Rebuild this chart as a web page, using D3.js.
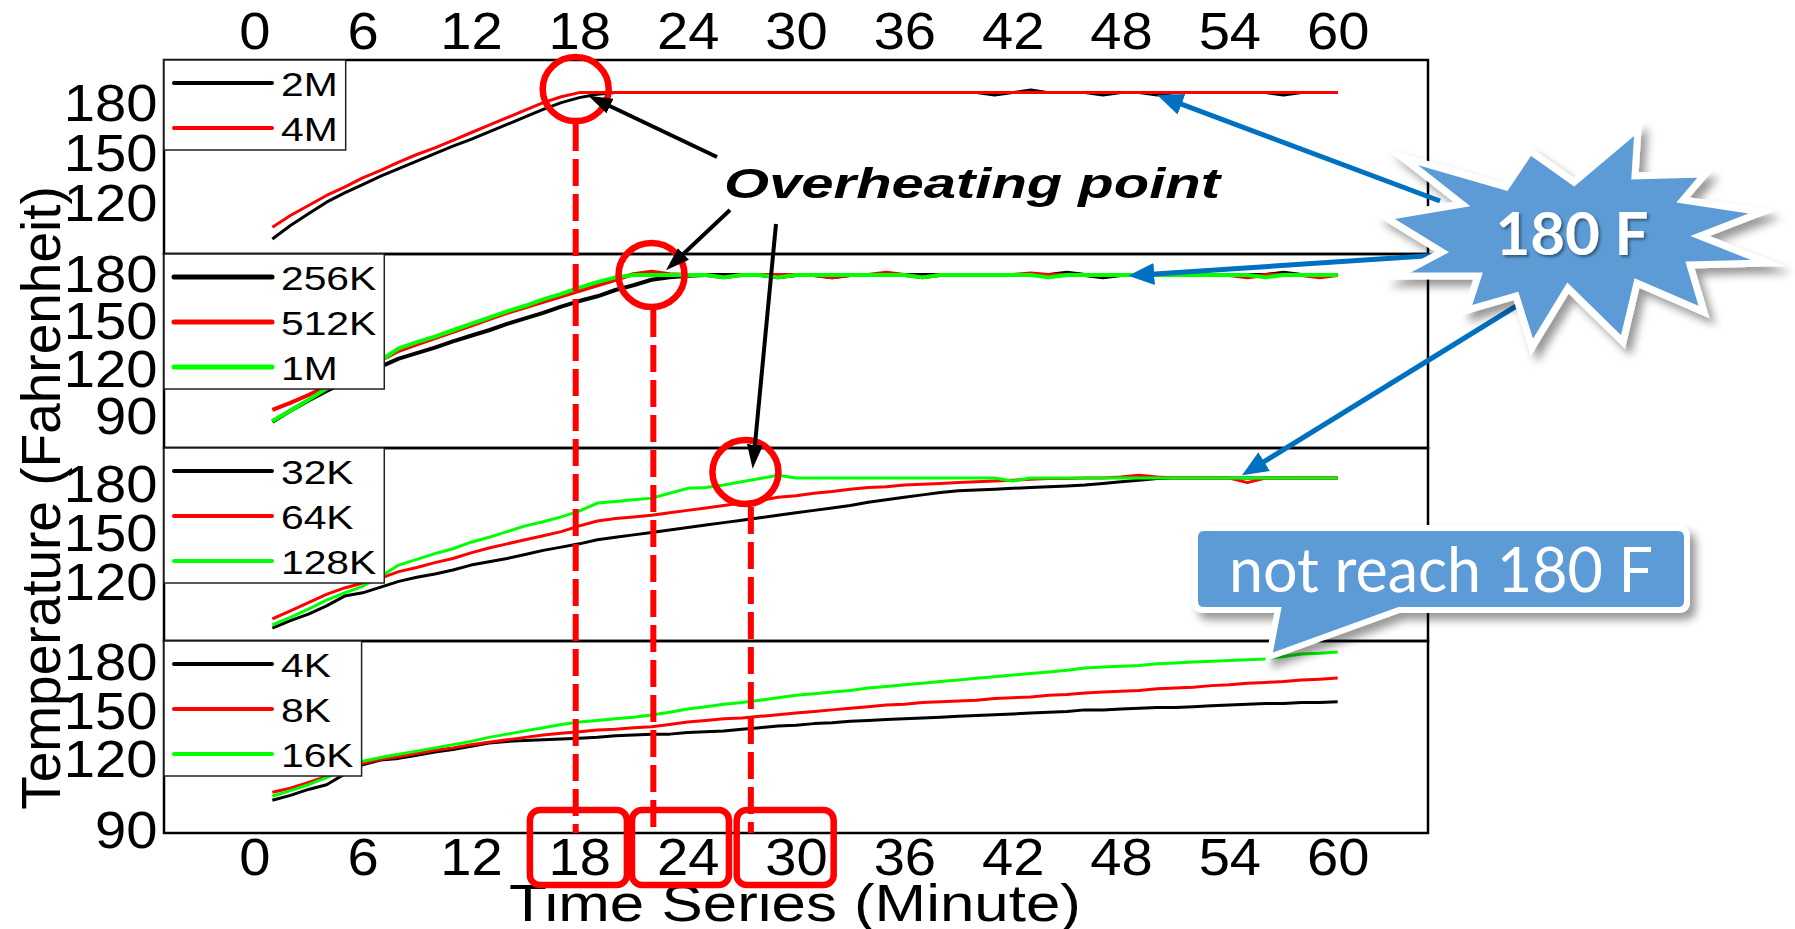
<!DOCTYPE html>
<html>
<head>
<meta charset="utf-8">
<title>Overheating point</title>
<script src="https://cdn.jsdelivr.net/npm/d3@7"></script>
<style>
  body { margin: 0; background: #fff; }
  svg { display: block; }
</style>
</head>
<body>
<svg id="chart" width="1795" height="929"></svg>
<script>
// time axis (minutes)
const minutes = d3.range(1, 61);
const xTicks = [0, 6, 12, 18, 24, 30, 36, 42, 48, 54, 60];

// legend names per panel
const p1Names = ["2M", "4M"];
const p2Names = ["256K", "512K", "1M"];
const p3Names = ["32K", "64K", "128K"];
const p4Names = ["4K", "8K", "16K"];

// y tick labels per panel
const p1Ticks = [120, 150, 180];
const p2Ticks = [90, 120, 150, 180];
const p3Ticks = [120, 150, 180];
const p4Ticks = [90, 120, 150, 180];

// temperature readings (F), minute 1..60
const p1_2M = [99, 107, 114, 121, 126.5, 131.5, 136.5, 141, 145.5, 150, 154.5, 158.5, 163, 167.5, 172, 176.5, 180.5, 183.5, 185.5, 186.5,
  186.5, 186.5, 186.5, 186.5, 186.5, 186.5, 186.5, 186.5, 186.5, 186.5,
  186.5, 186.5, 186.5, 186.5, 186.5, 186.5, 186.5, 186.5, 186.5, 186.5,
  185, 186.5, 188, 186.5, 186.5, 186.5, 185, 186.5, 186.5, 185,
  186.5, 186.5, 186.5, 186.5, 186.5, 186.5, 185, 186.5, 186.5, 186.5];
const p1_4M = [106, 113, 119, 125, 130, 135.5, 140, 145, 149.5, 153.5, 158, 162.5, 167, 171.5, 176, 180.5, 184, 186.5, 186.5, 186.5,
  186.5, 186.5, 186.5, 186.5, 186.5, 186.5, 186.5, 186.5, 186.5, 186.5,
  186.5, 186.5, 186.5, 186.5, 186.5, 186.5, 186.5, 186.5, 186.5, 186.5,
  186.5, 186.5, 186.5, 186.5, 186.5, 186.5, 186.5, 186.5, 186.5, 186.5,
  186.5, 186.5, 186.5, 186.5, 186.5, 186.5, 186.5, 186.5, 186.5, 186.5];

const p2_256K = [87, 94, 100.5, 106.5, 112, 117, 122, 127, 130.5, 134, 138, 141.5, 145, 149, 152.5, 156, 160, 163.5, 166.5, 170.5,
  173.5, 177, 178.5, 179.5, 180, 180, 180, 180, 178.5, 180,
  180, 178.5, 180, 180, 180, 180, 180, 180, 180, 180,
  180, 180, 180, 180, 181.5, 180, 178.5, 180, 180, 180,
  180, 180, 180, 180, 180, 180, 181.5, 180, 180, 180];
const p2_512K = [94.5, 99, 104, 109.5, 115, 120.5, 126, 132, 136, 140, 144, 148, 152, 156, 159.5, 163, 166.5, 170, 173.5, 177,
  180.5, 182, 180.5, 180, 180, 178.5, 180, 180, 180, 180,
  180, 178.5, 180, 180, 181.5, 180, 178.5, 180, 180, 180,
  180, 180, 181, 180, 180, 180, 180, 180, 180, 180,
  180, 180, 180, 180, 178.5, 180, 180, 180, 178.5, 180];
const p2_1M = [87.5, 94, 101, 108, 114, 120, 126, 133.5, 137.5, 141, 145, 149, 153, 157, 160.5, 164.5, 168, 172, 175.5, 178.5,
  180, 180, 180, 180, 180, 178.5, 180, 180, 178.5, 180,
  180, 180, 180, 180, 180, 180, 178.5, 180, 180, 180,
  180, 180, 180, 178.5, 180, 180, 180, 180, 180, 180,
  180, 180, 180, 180, 180, 178.5, 180, 180, 180, 180];

const p3_32K = [92.4, 97, 101, 106, 112, 114, 117.5, 121, 123.5, 125.5, 128, 131, 133, 135, 137.5, 140, 142, 144, 146.5, 148,
  149.5, 151, 152.5, 154, 155.5, 157, 158.5, 160, 161.5, 163,
  164.5, 166, 167.5, 169.5, 171, 172.5, 174, 175.5, 176.5, 177,
  177.5, 178, 178.5, 179, 179.5, 180, 181, 182, 183, 184,
  184.3, 184.3, 184.3, 184.3, 184.3, 184.3, 184.3, 184.3, 184.3, 184.3];
const p3_64K = [98, 103, 108, 113, 117, 120, 123, 127, 129.5, 132.5, 135, 138.5, 141.5, 144, 146.5, 149, 151.5, 155, 158, 159.5,
  160.5, 161.5, 163, 164.5, 166, 167.5, 169, 170.5, 172.5, 173.5,
  175, 176, 177.5, 178.5, 179, 180, 180.5, 181, 181.5, 182,
  182.5, 183, 183.5, 184, 184, 184.3, 184.3, 185, 186, 185,
  184.3, 184.3, 184.3, 184.3, 181.5, 184.3, 184.3, 184.3, 184.3, 184.3];
const p3_128K = [94.3, 99, 104, 109.5, 114, 118, 124, 131, 134.5, 138, 141, 145, 148, 151.5, 155, 157.5, 160.5, 164, 169, 170,
  171, 172, 175, 178, 178.5, 180, 182, 184, 186, 184.3,
  184.3, 184.3, 184.3, 184.3, 184.3, 184.3, 184.3, 184.3, 184.3, 184.3,
  184.3, 182.5, 184.3, 184.3, 184.3, 184.3, 184.3, 184.3, 184.3, 184.3,
  184.3, 184.3, 184.3, 184.3, 184.3, 184.3, 184.3, 184.3, 184.3, 184.3];

const p4_4K = [102.9, 105, 107.5, 109.5, 114, 118, 120, 121, 123, 125,
  126.5, 128.5, 130.5, 131.5, 132, 132.5, 133, 133.5, 134, 135,
  135.5, 136, 136, 137, 137.5, 138, 139, 140, 141, 141.5,
  142.5, 143, 144, 144.5, 145, 145.5, 146, 146.5, 147, 147.5,
  148, 148.5, 149, 149.5, 150, 151, 151, 151.5, 152, 152.5,
  152.5, 153, 153.5, 154, 154.5, 155, 155, 155.5, 155.5, 156];
const p4_8K = [106.3, 108, 110.5, 113, 116, 118.5, 120.5, 122, 124, 126,
  127.5, 129.5, 131, 132.5, 134, 135.5, 136.5, 137.5, 138.5, 139,
  140, 140.5, 142, 143.5, 144.5, 145.5, 146, 147, 148, 149,
  150, 151, 152, 153, 154, 154.5, 155.5, 156, 156.5, 157,
  158, 158.5, 159, 160, 160.5, 161.5, 162, 162.5, 163, 164,
  164.5, 165, 166, 166.5, 167.5, 168, 168.5, 169.5, 170, 170.7];
const p4_16K = [104.6, 107, 109.5, 112.5, 116, 119.5, 121.5, 123.5, 125.5, 127.5,
  129.5, 131.5, 134, 136, 138, 140, 142, 143.5, 144.5, 145.5,
  146.5, 147.8, 149.5, 151.5, 153, 154.5, 155.5, 157, 158.5, 160,
  161, 162, 163, 164.5, 165.5, 166.5, 167.5, 168.5, 169.5, 170.5,
  171.5, 172.5, 173.5, 174.5, 175.5, 176.9, 177.5, 178, 178.5, 179.5,
  180, 180.6, 181, 181.5, 182, 182.5, 184, 185.5, 186, 186.8];

const colors = ["#000000", "#ff0000", "#00ff00"];

const svg = d3.select("#chart");
const font = "'Liberation Sans', Arial, sans-serif";
const left = 164, right = 1428;
const edges = [60, 254, 448, 641, 833];

const x = d3.scaleLinear().domain([-5, 65]).range([left, right]);

const panels = [
  { names: p1Names, series: [p1_2M, p1_4M], ticks: p1Ticks, domain: [90, 206], width: 3 },
  { names: p2Names, series: [p2_256K, p2_512K, p2_1M], ticks: p2Ticks, domain: [70.4, 193.3], width: 4 },
  { names: p3Names, series: [p3_32K, p3_64K, p3_128K], ticks: p3Ticks, domain: [84.5, 202.7], width: 3 },
  { names: p4Names, series: [p4_4K, p4_8K, p4_16K], ticks: p4Ticks, domain: [89, 120, 193.6], width: 3 }
];

const yScales = panels.map((p, i) => {
  const top = edges[i], bottom = edges[i + 1];
  const range = p.domain.length === 2 ? [bottom, top] : [bottom, bottom - 73, top];
  return d3.scaleLinear().domain(p.domain).range(range);
});

// filters and arrow heads
const defs = svg.append("defs");
const shadow = defs.append("filter").attr("id", "shadow")
  .attr("x", "-20%").attr("y", "-20%").attr("width", "150%").attr("height", "160%");
shadow.append("feDropShadow").attr("dx", 6).attr("dy", 7).attr("stdDeviation", 4)
  .attr("flood-color", "#000").attr("flood-opacity", 0.4);
const tshadow = defs.append("filter").attr("id", "tshadow");
tshadow.append("feDropShadow").attr("dx", 2).attr("dy", 2).attr("stdDeviation", 1.5)
  .attr("flood-color", "#000").attr("flood-opacity", 0.45);

function marker(id, color, len, half, back) {
  defs.append("marker").attr("id", id)
    .attr("viewBox", `0 0 ${len} ${half * 2}`)
    .attr("refX", len - back).attr("refY", half)
    .attr("markerWidth", len).attr("markerHeight", half * 2)
    .attr("markerUnits", "userSpaceOnUse").attr("orient", "auto")
    .append("path").attr("d", `M0,0L${len},${half}L0,${half * 2}Z`).attr("fill", color);
}
marker("headBlack", "#000", 24, 8, 8);
marker("headBlue", "#0070c0", 26, 11, 8);

// y axis title
svg.append("text")
  .attr("transform", "translate(60,498) rotate(-90)")
  .attr("text-anchor", "middle")
  .attr("font-family", font).attr("font-size", 55)
  .text("Temperature (Fahrenheit)");

// panels
panels.forEach((p, i) => {
  const y = yScales[i];
  const g = svg.append("g");

  const line = d3.line()
    .x((d, j) => x(minutes[j]))
    .y(d => y(d));

  p.series.forEach((s, k) => {
    g.append("path")
      .datum(s)
      .attr("d", line)
      .attr("fill", "none")
      .attr("stroke", colors[k])
      .attr("stroke-width", p.width)
      .attr("stroke-linejoin", "round");
  });

  g.append("rect")
    .attr("x", left).attr("y", edges[i])
    .attr("width", right - left).attr("height", edges[i + 1] - edges[i])
    .attr("fill", "none").attr("stroke", "#000").attr("stroke-width", 2.5);

  g.append("g")
    .attr("transform", `translate(${left},0)`)
    .call(d3.axisLeft(y).tickValues(p.ticks).tickSize(0).tickPadding(6))
    .call(a => a.select(".domain").remove())
    .call(a => a.selectAll("text")
      .attr("font-size", 52).attr("font-family", font).attr("fill", "#000")
      .attr("transform", "scale(1.08,1)"));

  // legend
  const lg = g.append("g");
  const box = lg.append("rect")
    .attr("x", left).attr("y", edges[i])
    .attr("height", p.names.length * 45)
    .attr("fill", "#fff").attr("stroke", "#222").attr("stroke-width", 1.5);
  let maxW = 0;
  p.names.forEach((n, k) => {
    const ly = edges[i] + 23 + k * 45;
    lg.append("line")
      .attr("x1", 174).attr("x2", 272).attr("y1", ly).attr("y2", ly)
      .attr("stroke", colors[k]).attr("stroke-width", p.width + 1)
      .attr("stroke-linecap", "round");
    const t = lg.append("text")
      .attr("transform", `translate(281,${ly + 12.5}) scale(1.2,1)`)
      .attr("font-family", font).attr("font-size", 34)
      .text(n);
    maxW = Math.max(maxW, t.node().getComputedTextLength() * 1.2);
  });
  box.attr("width", 281 + maxW + 8 - left);
});

// top and bottom time axes
svg.append("g")
  .attr("transform", `translate(0,${edges[0]})`)
  .call(d3.axisTop(x).tickValues(xTicks).tickSize(0).tickPadding(11))
  .call(a => a.select(".domain").remove())
  .call(a => a.selectAll("text")
    .attr("font-size", 51).attr("font-family", font).attr("fill", "#000")
    .attr("transform", "scale(1.1,1)"));

svg.append("g")
  .attr("transform", `translate(0,${edges[4]})`)
  .call(d3.axisBottom(x).tickValues(xTicks).tickSize(0).tickPadding(6))
  .call(a => a.select(".domain").remove())
  .call(a => a.selectAll("text")
    .attr("font-size", 51).attr("font-family", font).attr("fill", "#000")
    .attr("transform", "scale(1.1,1)"));

svg.append("text")
  .attr("transform", "translate(795,921) scale(1.19,1)")
  .attr("text-anchor", "middle")
  .attr("font-family", font).attr("font-size", 52)
  .text("Time Series (Minute)");

// ---- annotations ----
const red = "#ff0000";

// overheating circles: minute, panel, value
const overheat = [
  { t: 17.8, panel: 0, v: 188.6, line: 17.8 },
  { t: 22.0, panel: 1, v: 180, line: 22.1 },
  { t: 27.2, panel: 2, v: 188, line: 27.5 }
];
const ann = svg.append("g");
overheat.forEach(o => {
  const cx = x(o.t), cy = yScales[o.panel](o.v);
  ann.append("line")
    .attr("x1", x(o.line)).attr("x2", x(o.line))
    .attr("y1", cy + 35).attr("y2", edges[4])
    .attr("stroke", red).attr("stroke-width", 6)
    .attr("stroke-dasharray", "27 8");
  ann.append("ellipse")
    .attr("cx", cx).attr("cy", cy).attr("rx", 33).attr("ry", 32)
    .attr("fill", "none").attr("stroke", red).attr("stroke-width", 6.5);
});

// boxes around highlighted bottom ticks
const boxTicks = [17.95, 23.6, 29.4];
boxTicks.forEach(t => {
  ann.append("rect")
    .attr("x", x(t) - 48.5).attr("y", 810)
    .attr("width", 97).attr("height", 75).attr("rx", 10)
    .attr("fill", "none").attr("stroke", red).attr("stroke-width", 6.5);
});

function arrow(g, sx, sy, tx, ty, color, w, head) {
  const dx = tx - sx, dy = ty - sy, L = Math.hypot(dx, dy);
  g.append("line")
    .attr("x1", sx).attr("y1", sy)
    .attr("x2", tx - dx / L * 8).attr("y2", ty - dy / L * 8)
    .attr("stroke", color).attr("stroke-width", w)
    .attr("marker-end", `url(#${head})`);
}

// black arrows from the label to each circle
arrow(ann, 717, 157, x(18.5), yScales[0](184.6), "#000", 4, "headBlack");
arrow(ann, 730, 210, x(22.8), yScales[1](183), "#000", 4, "headBlack");
arrow(ann, 776, 224, x(27.6), yScales[2](190), "#000", 4, "headBlack");

ann.append("text")
  .attr("transform", "translate(972,198) scale(1.38,1)")
  .attr("text-anchor", "middle")
  .attr("font-family", font).attr("font-size", 42)
  .attr("font-weight", "bold").attr("font-style", "italic")
  .text("Overheating point");

// blue arrows from the burst to the 180 F plateaus
arrow(ann, 1440, 201, x(50), yScales[0](185), "#0070c0", 5, "headBlue");
arrow(ann, 1440, 255, x(48.4), yScales[1](179.5), "#0070c0", 5, "headBlue");
arrow(ann, 1518, 305, x(54.7), yScales[2](186), "#0070c0", 5, "headBlue");

// burst: outer tips and inner valleys
const burst = [[1402, 157], [1506, 187], [1530, 151], [1574, 182], [1638, 128], [1635, 176],
  [1705, 174], [1683, 200], [1762, 212], [1700, 236], [1768, 263], [1690, 265],
  [1704, 312], [1637, 283], [1623, 342], [1568, 288], [1532, 347], [1516, 296],
  [1467, 310], [1478, 276], [1397, 276], [1442, 252], [1385, 217], [1462, 204]];
ann.append("path")
  .attr("d", d3.line()(burst) + "Z")
  .attr("fill", "#5b9bd5").attr("stroke", "#fff").attr("stroke-width", 7)
  .attr("stroke-miterlimit", 10)
  .attr("filter", "url(#shadow)");
ann.append("text")
  .attr("x", 1572).attr("y", 255)
  .attr("text-anchor", "middle")
  .attr("font-family", "Lato, 'Open Sans', sans-serif").attr("font-size", 60)
  .attr("font-weight", "bold").attr("fill", "#fff")
  .attr("filter", "url(#tshadow)")
  .text("180 F");

// callout
const c = { x0: 1195, y0: 528, x1: 1687, y1: 610, r: 9 };
const callout = `M${c.x0 + c.r},${c.y0}H${c.x1 - c.r}Q${c.x1},${c.y0} ${c.x1},${c.y0 + c.r}` +
  `V${c.y1 - c.r}Q${c.x1},${c.y1} ${c.x1 - c.r},${c.y1}H1399L1269,657L1278,${c.y1}` +
  `H${c.x0 + c.r}Q${c.x0},${c.y1} ${c.x0},${c.y1 - c.r}V${c.y0 + c.r}Q${c.x0},${c.y0} ${c.x0 + c.r},${c.y0}Z`;
ann.append("path")
  .attr("d", callout)
  .attr("fill", "#5b9bd5").attr("stroke", "#fff").attr("stroke-width", 6)
  .attr("filter", "url(#shadow)");
ann.append("text")
  .attr("x", 1441).attr("y", 592)
  .attr("text-anchor", "middle")
  .attr("font-family", "Lato, 'Open Sans', sans-serif").attr("font-size", 61)
  .attr("fill", "#fff")
  .text("not reach 180 F");
</script>
</body>
</html>
